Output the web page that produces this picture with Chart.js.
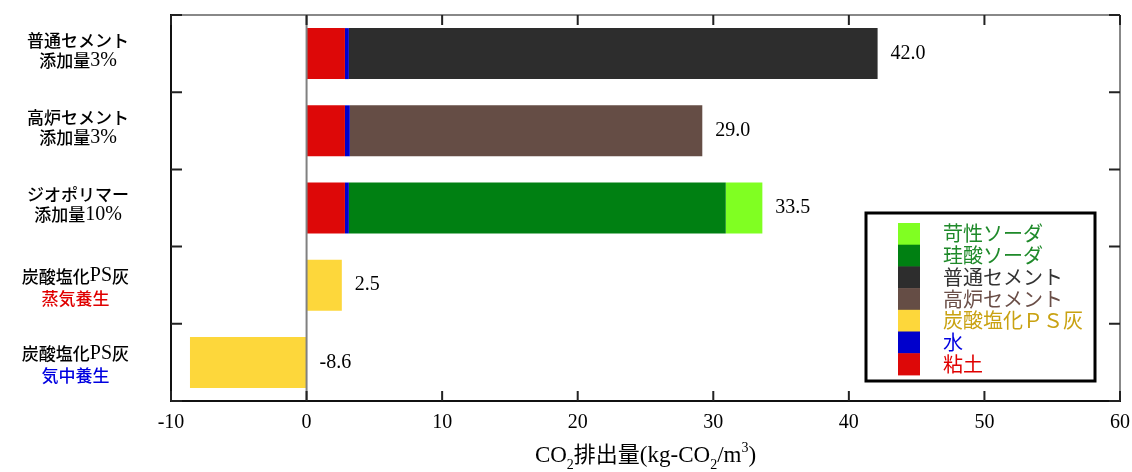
<!DOCTYPE html>
<html>
<head>
<meta charset="utf-8">
<script src="https://cdn.jsdelivr.net/npm/chart.js@4.4.1/dist/chart.umd.min.js"></script>
<style>
  html, body { margin: 0; padding: 0; background: #fff; }
  #wrap { width: 1132px; height: 472px; }
</style>
</head>
<body>
<div id="wrap"><canvas id="co2Chart" width="1132" height="472"></canvas></div>
<script>
// rows, top to bottom
const categories = ['普通セメント 添加量3%', '高炉セメント 添加量3%', 'ジオポリマー 添加量10%', '炭酸塩化PS灰 蒸気養生', '炭酸塩化PS灰 気中養生'];

// stacked parts (kg-CO2/m3)
const clay      = [2.83, 2.83, 2.83, 0, 0];
const water     = [0.29, 0.36, 0.29, 0, 0];
const psAsh     = [0, 0, 0, 2.6, -8.6];
const bfCement  = [0, 26.0, 0, 0, 0];
const opCement  = [39.0, 0, 0, 0, 0];
const silicate  = [0, 0, 27.8, 0, 0];
const caustic   = [0, 0, 2.7, 0, 0];

// printed totals
const totals = [42.0, 29.0, 33.5, 2.5, -8.6];

const xTicks = [-10, 0, 10, 20, 30, 40, 50, 60];

const SERIF = '"Liberation Serif", "Times New Roman", serif';
const GOTHIC = '"Noto Sans CJK JP", "Noto Sans", sans-serif';

// label lines: [text, font, colour]
const rowLabels = [
    [[['普通セメント', 'g', '#000']], [['添加量', 'g', '#000'], ['3%', 's', '#000']]],
    [[['高炉セメント', 'g', '#000']], [['添加量', 'g', '#000'], ['3%', 's', '#000']]],
    [[['ジオポリマー', 'g', '#000']], [['添加量', 'g', '#000'], ['10%', 's', '#000']]],
    [[['炭酸塩化', 'g', '#000'], ['PS', 's', '#000'], ['灰', 'g', '#000']], [['蒸気養生', 'g', '#e00000']]],
    [[['炭酸塩化', 'g', '#000'], ['PS', 's', '#000'], ['灰', 'g', '#000']], [['気中養生', 'g', '#0000e0']]]
];

function segFont(kind) {
    return kind === 's' ? '20px ' + SERIF : '500 17px ' + GOTHIC;
}

// frame, zero line, inward ticks
const framePlugin = {
    id: 'frame',
    afterDatasetsDraw(chart) {
        const {ctx, chartArea: a, scales: {x}} = chart;
        const x0 = x.getPixelForValue(0);
        ctx.save();
        ctx.strokeStyle = '#808080';
        ctx.lineWidth = 2;
        ctx.beginPath();
        ctx.moveTo(x0, a.top);
        ctx.lineTo(x0, a.bottom);
        ctx.stroke();
        ctx.restore();
    },
    afterDraw(chart) {
        const {ctx, chartArea: a, scales: {x, y}} = chart;
        ctx.save();
        ctx.lineWidth = 2;
        ctx.strokeStyle = '#888';
        ctx.beginPath();
        ctx.moveTo(a.left, a.top); ctx.lineTo(a.right, a.top);
        ctx.moveTo(a.right, a.top); ctx.lineTo(a.right, a.bottom);
        ctx.stroke();
        ctx.strokeStyle = '#111';
        ctx.beginPath();
        ctx.moveTo(a.left, a.top - 1); ctx.lineTo(a.left, a.bottom + 1);
        ctx.moveTo(a.left - 1, a.bottom); ctx.lineTo(a.right + 1, a.bottom);
        ctx.stroke();

        // x ticks
        ctx.strokeStyle = '#222';
        ctx.beginPath();
        xTicks.forEach(v => {
            const px = x.getPixelForValue(v);
            ctx.moveTo(px, a.bottom); ctx.lineTo(px, a.bottom - 10);
            ctx.moveTo(px, a.top); ctx.lineTo(px, a.top + 10);
        });
        // category boundaries
        for (let i = 0; i <= categories.length; i++) {
            const py = i === 0 ? a.top : i === categories.length ? a.bottom
                : (y.getPixelForValue(i - 1) + y.getPixelForValue(i)) / 2;
            ctx.moveTo(a.left, py); ctx.lineTo(a.left + 11, py);
            ctx.moveTo(a.right, py); ctx.lineTo(a.right - 11, py);
        }
        ctx.stroke();
        ctx.restore();
    }
};

// totals at bar ends
const totalsPlugin = {
    id: 'totals',
    afterDatasetsDraw(chart) {
        const {ctx, scales: {x, y}} = chart;
        ctx.save();
        ctx.font = '20px ' + SERIF;
        ctx.fillStyle = '#000';
        ctx.textAlign = 'left';
        ctx.textBaseline = 'middle';
        totals.forEach((t, i) => {
            let end = 0;
            chart.data.datasets.forEach(ds => { if (ds.data[i] > 0) end += ds.data[i]; });
            ctx.fillText(t.toFixed(1), x.getPixelForValue(end) + 13, y.getPixelForValue(i));
        });
        ctx.restore();
    }
};

// two-line category labels, mixed fonts
const rowLabelPlugin = {
    id: 'rowLabels',
    afterDraw(chart) {
        const {ctx, chartArea: a, scales: {y}} = chart;
        const offs = [[-13, 7], [-13, 7], [-13, 7], [-9, 13], [-9, 13]];
        ctx.save();
        ctx.textBaseline = 'middle';
        ctx.textAlign = 'left';
        rowLabels.forEach((lines, i) => {
            const widths = lines.map(line => line.reduce((w, s) => {
                ctx.font = segFont(s[1]);
                return w + ctx.measureText(s[0]).width;
            }, 0));
            const blockW = Math.max(...widths);
            const right = a.left - 42;
            const cy = y.getPixelForValue(i);
            lines.forEach((line, j) => {
                let px = right - blockW + (blockW - widths[j]) / 2;
                line.forEach(s => {
                    ctx.font = segFont(s[1]);
                    ctx.fillStyle = s[2];
                    ctx.fillText(s[0], px, cy + offs[i][j]);
                    px += ctx.measureText(s[0]).width;
                });
            });
        });
        ctx.restore();
    }
};

// axis title with sub/superscripts
const titlePlugin = {
    id: 'xTitle',
    afterDraw(chart) {
        const {ctx, chartArea: a} = chart;
        const parts = [
            ['CO', '23px ' + SERIF, 0], ['2', '14px ' + SERIF, 7],
            ['排出量', '22px ' + GOTHIC, 0],
            ['(kg-CO', '23px ' + SERIF, 0], ['2', '14px ' + SERIF, 7],
            ['/m', '23px ' + SERIF, 0], ['3', '14px ' + SERIF, -10],
            [')', '23px ' + SERIF, 0]
        ];
        ctx.save();
        ctx.fillStyle = '#000';
        ctx.textBaseline = 'alphabetic';
        let w = 0;
        parts.forEach(p => { ctx.font = p[1]; w += ctx.measureText(p[0]).width; });
        let px = (a.left + a.right) / 2 - w / 2;
        parts.forEach(p => {
            ctx.font = p[1];
            ctx.fillText(p[0], px, 462 + p[2]);
            px += ctx.measureText(p[0]).width;
        });
        ctx.restore();
    }
};

// legend box inside the plot
const legendPlugin = {
    id: 'boxLegend',
    afterDraw(chart) {
        const {ctx, chartArea: a} = chart;
        const bx = a.right - 254, by = a.top + 198, bw = 229, bh = 168;
        ctx.save();
        ctx.fillStyle = '#fff';
        ctx.fillRect(bx, by, bw, bh);
        ctx.strokeStyle = '#000';
        ctx.lineWidth = 3;
        ctx.strokeRect(bx, by, bw, bh);
        const items = chart.data.datasets.slice().reverse();
        const step = 21.7;
        ctx.font = '20px ' + GOTHIC;
        ctx.textBaseline = 'middle';
        items.forEach((ds, k) => {
            const sy = by + 10 + k * step;
            ctx.fillStyle = ds.backgroundColor;
            ctx.fillRect(bx + 32, sy, 22, step + 0.5);
            ctx.fillStyle = ds.labelColor;
            ctx.fillText(ds.label, bx + 77, sy + step / 2);
        });
        ctx.restore();
    }
};

const ctx = document.getElementById('co2Chart').getContext('2d');
new Chart(ctx, {
    type: 'bar',
    data: {
        labels: categories,
        datasets: [
            { label: '粘土', data: clay, backgroundColor: '#dd0808', labelColor: '#e00000' },
            { label: '水', data: water, backgroundColor: '#0000cc', labelColor: '#0000e0' },
            { label: '炭酸塩化ＰＳ灰', data: psAsh, backgroundColor: '#fdd73b', labelColor: '#c9a212' },
            { label: '高炉セメント', data: bfCement, backgroundColor: '#654d45', labelColor: '#6a4e47' },
            { label: '普通セメント', data: opCement, backgroundColor: '#2d2d2d', labelColor: '#333333' },
            { label: '珪酸ソーダ', data: silicate, backgroundColor: '#008012', labelColor: '#1f8a2a' },
            { label: '苛性ソーダ', data: caustic, backgroundColor: '#80ff22', labelColor: '#1f8a2a' }
        ]
    },
    options: {
        indexAxis: 'y',
        responsive: false,
        animation: false,
        devicePixelRatio: 1,
        datasets: {
            bar: { categoryPercentage: 1, barPercentage: 0.66, borderWidth: 0 }
        },
        layout: { padding: { left: 171, right: 12, top: 15, bottom: 27 } },
        plugins: {
            legend: { display: false },
            tooltip: { enabled: false }
        },
        scales: {
            x: {
                stacked: true,
                min: -10,
                max: 60,
                grid: { display: false, drawTicks: false },
                border: { display: false },
                ticks: {
                    stepSize: 10,
                    padding: 10,
                    color: '#000',
                    font: { family: SERIF, size: 20 }
                },
                afterFit(scale) {
                    // let the end labels hang into the side margins
                    scale.paddingLeft = 0;
                    scale.paddingRight = 0;
                }
            },
            y: {
                stacked: true,
                display: false
            }
        }
    },
    plugins: [framePlugin, totalsPlugin, rowLabelPlugin, titlePlugin, legendPlugin]
});
</script>
</body>
</html>
